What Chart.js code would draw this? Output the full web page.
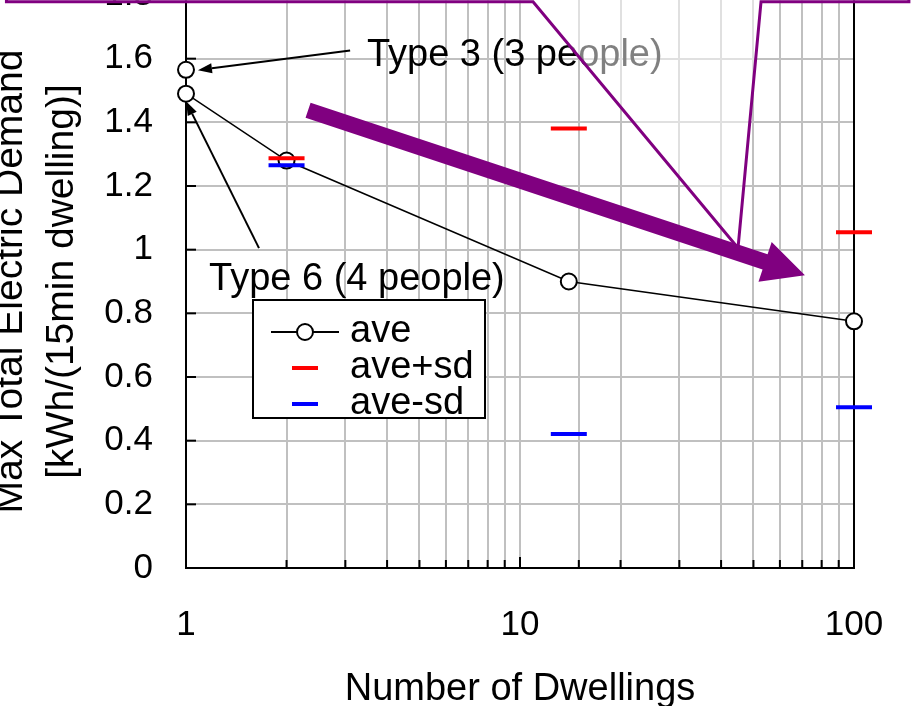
<!DOCTYPE html>
<html>
<head>
<meta charset="utf-8">
<title>Max Total Electric Demand vs Number of Dwellings</title>
<script src="https://cdn.jsdelivr.net/npm/chart.js@4.4.1/dist/chart.umd.min.js"></script>
<style>
    html, body {
        margin: 0;
        padding: 0;
        background: #fff;
        overflow: hidden;
        width: 914px;
        height: 706px;
    }
    /* the figure is cropped on the top, left and right, like the original */
    #wrap {
        position: absolute;
        left: -40px;
        top: -40px;
        width: 1000px;
        height: 760px;
    }
</style>
</head>
<body>
<div id="wrap"><canvas id="demandChart" width="1000" height="760"></canvas></div>
<script>
// ===== Data =====
const dwellings = [1, 1, 2, 14, 100];
const aveValues = [1.565, 1.49, 1.28, 0.90, 0.775];

const sdDwellings = [2, 14, 100];
const avePlusSd = [1.287, 1.381, 1.055];
const aveMinusSd = [1.265, 0.421, 0.505];

const xTickLabels = ["1", "10", "100"];
const yTickLabels = ["0", "0.2", "0.4", "0.6", "0.8", "1", "1.2", "1.4", "1.6", "1.8"];

// ===== Annotations (data coordinates) =====
const type3Label = { text: "Type 3 (3 people)", x: 3.48, y: 1.576 };
const type3Arrow = [[3.10, 1.626], [1.086, 1.564]];
const type6Label = { text: "Type 6 (4 people)", x: 1.172, y: 0.873 };
const type6Arrow = [[1.654, 1.005], [1.0, 1.466]];
const trendArrow = [[2.32, 1.438], [71.3, 0.92]];
const calloutShape = [
    [0.29, 2.1], [0.29, 1.779], [10.94, 1.779], [44.95, 1.005],
    [52.68, 1.779], [146, 1.779], [146, 2.1]
];

const FONT = "'Liberation Sans', Arial, sans-serif";
const PURPLE = "#800080";

function toPoints(xs, ys) {
    return xs.map((x, i) => ({ x: x, y: ys[i] }));
}

// black line with a small filled head
function drawLineArrow(ctx, x1, y1, x2, y2) {
    const ang = Math.atan2(y2 - y1, x2 - x1);
    const len = 14, half = 5;
    const bx = x2 - len * Math.cos(ang);
    const by = y2 - len * Math.sin(ang);

    ctx.strokeStyle = "#000";
    ctx.fillStyle = "#000";
    ctx.lineWidth = 2;
    ctx.beginPath();
    ctx.moveTo(x1, y1);
    ctx.lineTo(bx, by);
    ctx.stroke();

    ctx.beginPath();
    ctx.moveTo(x2, y2);
    ctx.lineTo(bx - half * Math.sin(ang), by + half * Math.cos(ang));
    ctx.lineTo(bx + half * Math.sin(ang), by - half * Math.cos(ang));
    ctx.closePath();
    ctx.fill();
}

// thick block arrow
function drawBlockArrow(ctx, x1, y1, x2, y2) {
    const dx = x2 - x1, dy = y2 - y1;
    const L = Math.hypot(dx, dy);
    const ux = dx / L, uy = dy / L;
    const nx = -uy, ny = ux;
    const shaft = 8, headLen = 42, headHalf = 21;
    const neckX = x2 - ux * headLen, neckY = y2 - uy * headLen;

    ctx.fillStyle = PURPLE;
    ctx.beginPath();
    ctx.moveTo(x1 + nx * shaft, y1 + ny * shaft);
    ctx.lineTo(neckX + nx * shaft, neckY + ny * shaft);
    ctx.lineTo(neckX + nx * headHalf, neckY + ny * headHalf);
    ctx.lineTo(x2, y2);
    ctx.lineTo(neckX - nx * headHalf, neckY - ny * headHalf);
    ctx.lineTo(neckX - nx * shaft, neckY - ny * shaft);
    ctx.lineTo(x1 - nx * shaft, y1 - ny * shaft);
    ctx.closePath();
    ctx.fill();
}

// ===== Frame + inner tick marks (under the data) =====
const framePlugin = {
    id: "frame",
    beforeDatasetsDraw(chart) {
        const ctx = chart.ctx;
        const area = chart.chartArea;
        const xs = chart.scales.x;
        const ys = chart.scales.y;

        ctx.save();
        ctx.strokeStyle = "#000";
        ctx.lineWidth = 2;

        xs.ticks.forEach(t => {
            const x = xs.getPixelForValue(t.value);
            const len = xTickLabels.includes(String(t.value)) ? 11 : 8;
            ctx.beginPath();
            ctx.moveTo(x, area.bottom);
            ctx.lineTo(x, area.bottom - len);
            ctx.stroke();
        });

        ys.ticks.forEach(t => {
            const y = ys.getPixelForValue(t.value);
            ctx.beginPath();
            ctx.moveTo(area.left, y);
            ctx.lineTo(area.left + 10, y);
            ctx.stroke();
        });

        ctx.strokeRect(area.left, area.top, area.right - area.left, area.bottom - area.top);
        ctx.restore();
    }
};

// ===== Labels, arrows, callout, legend (over the data) =====
const overlayPlugin = {
    id: "overlay",
    afterDatasetsDraw(chart) {
        const ctx = chart.ctx;
        const area = chart.chartArea;
        const xs = chart.scales.x;
        const ys = chart.scales.y;
        const px = v => xs.getPixelForValue(v);
        const py = v => ys.getPixelForValue(v);

        ctx.save();

        // annotation texts
        ctx.font = "38px " + FONT;
        ctx.fillStyle = "#000";
        ctx.textAlign = "left";
        ctx.textBaseline = "alphabetic";
        ctx.fillText(type3Label.text, px(type3Label.x), py(type3Label.y));
        ctx.fillText(type6Label.text, px(type6Label.x), py(type6Label.y));

        drawLineArrow(ctx, px(type3Arrow[0][0]), py(type3Arrow[0][1]),
            px(type3Arrow[1][0]), py(type3Arrow[1][1]));
        drawLineArrow(ctx, px(type6Arrow[0][0]), py(type6Arrow[0][1]),
            px(type6Arrow[1][0]), py(type6Arrow[1][1]));

        // callout box (semi transparent)
        ctx.beginPath();
        calloutShape.forEach((p, i) => {
            if (i === 0) ctx.moveTo(px(p[0]), py(p[1]));
            else ctx.lineTo(px(p[0]), py(p[1]));
        });
        ctx.closePath();
        ctx.fillStyle = "rgba(255,255,255,0.5)";
        ctx.fill();
        ctx.strokeStyle = PURPLE;
        ctx.lineWidth = 3;
        ctx.lineJoin = "miter";
        ctx.stroke();

        drawBlockArrow(ctx, px(trendArrow[0][0]), py(trendArrow[0][1]),
            px(trendArrow[1][0]), py(trendArrow[1][1]));

        // legend box
        const bx = area.left + 67;
        const by = area.top + 305;
        const bw = 232, bh = 118;
        ctx.fillStyle = "#fff";
        ctx.fillRect(bx, by, bw, bh);
        ctx.strokeStyle = "#000";
        ctx.lineWidth = 2;
        ctx.strokeRect(bx, by, bw, bh);

        chart.data.datasets.forEach((ds, i) => {
            const base = by + 42 + i * 36;
            const mid = base - 10;
            if (ds.showLine) {
                ctx.strokeStyle = ds.borderColor;
                ctx.lineWidth = 2;
                ctx.beginPath();
                ctx.moveTo(bx + 18, mid);
                ctx.lineTo(bx + 86, mid);
                ctx.stroke();
                ctx.beginPath();
                ctx.arc(bx + 52, mid, ds.pointRadius, 0, Math.PI * 2);
                ctx.fillStyle = ds.pointBackgroundColor;
                ctx.fill();
                ctx.lineWidth = ds.pointBorderWidth;
                ctx.stroke();
            } else {
                ctx.strokeStyle = ds.borderColor;
                ctx.lineWidth = ds.borderWidth;
                ctx.beginPath();
                ctx.moveTo(bx + 39, mid);
                ctx.lineTo(bx + 65, mid);
                ctx.stroke();
            }
            ctx.fillStyle = "#000";
            ctx.font = "38px " + FONT;
            ctx.fillText(ds.label, bx + 97, base);
        });

        ctx.restore();
    }
};

const ctx = document.getElementById("demandChart").getContext("2d");

new Chart(ctx, {
    type: "scatter",
    data: {
        datasets: [
            {
                label: "ave",
                data: toPoints(dwellings, aveValues),
                showLine: true,
                borderColor: "#000",
                borderWidth: 1.5,
                pointRadius: 8,
                pointBorderWidth: 2,
                pointBackgroundColor: "#fff",
                pointBorderColor: "#000",
                clip: false,
                order: 3
            },
            {
                label: "ave+sd",
                data: toPoints(sdDwellings, avePlusSd),
                showLine: false,
                pointStyle: "line",
                pointRadius: 18,
                borderColor: "#ff0000",
                borderWidth: 4,
                clip: false,
                order: 1
            },
            {
                label: "ave-sd",
                data: toPoints(sdDwellings, aveMinusSd),
                showLine: false,
                pointStyle: "line",
                pointRadius: 18,
                borderColor: "#0000ff",
                borderWidth: 4,
                clip: false,
                order: 2
            }
        ]
    },
    options: {
        responsive: false,
        devicePixelRatio: 1,
        animation: false,
        layout: {
            padding: { left: 0, top: 35, right: 106, bottom: 0 }
        },
        plugins: {
            legend: { display: false },
            tooltip: { enabled: false }
        },
        scales: {
            x: {
                type: "logarithmic",
                min: 1,
                max: 100,
                afterFit: scale => { scale.height = 152; },
                grid: { color: "#c0c0c0", lineWidth: 2, drawTicks: false },
                border: { color: "#000", width: 2 },
                ticks: {
                    autoSkip: false,
                    maxRotation: 0,
                    padding: 36,
                    color: "#000",
                    font: { family: FONT, size: 35 },
                    callback: value => xTickLabels.includes(String(value)) ? String(value) : ""
                },
                title: {
                    display: true,
                    text: "Number of Dwellings",
                    color: "#000",
                    font: { family: FONT, size: 38, lineHeight: 1.2 },
                    padding: { top: 0, bottom: 8 }
                }
            },
            y: {
                min: 0,
                max: 1.8,
                afterFit: scale => {
                    scale.width = 226;
                    scale.paddingTop = 0;
                    scale.paddingBottom = 0;
                },
                grid: { color: "#c0c0c0", lineWidth: 2, drawTicks: false },
                border: { color: "#000", width: 2 },
                ticks: {
                    stepSize: 0.2,
                    padding: 33,
                    color: "#000",
                    font: { family: FONT, size: 35 },
                    callback: (value, index) => yTickLabels[index]
                },
                title: {
                    display: true,
                    text: ["Max Total Electric Demand", "[kWh/(15min dwelling)]"],
                    color: "#000",
                    font: { family: FONT, size: 39, lineHeight: 1.3 },
                    padding: { top: 26, bottom: 0 }
                }
            }
        }
    },
    plugins: [framePlugin, overlayPlugin]
});
</script>
</body>
</html>
